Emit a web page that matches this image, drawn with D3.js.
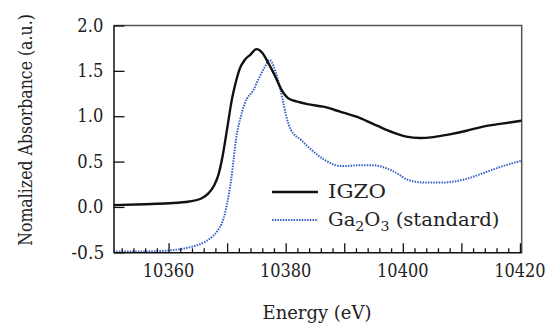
<!DOCTYPE html>
<html>
<head>
<meta charset="utf-8">
<script src="https://cdn.jsdelivr.net/npm/d3@7"></script>
<style>
  body { margin: 0; background: #fff; }
</style>
</head>
<body>
<svg width="548" height="325"></svg>
<script>
// data
var igzoE = [10350.6, 10356, 10360, 10363.5, 10365.5, 10366.8, 10367.8, 10368.5, 10369.2, 10370, 10370.8, 10371.5, 10372.2, 10373, 10374, 10375, 10376, 10377, 10378.2, 10379.3, 10380.4, 10382, 10384, 10386.4, 10389.3, 10392.7, 10395.8, 10398.4, 10400.6, 10402.9, 10405.2, 10408, 10410.9, 10413.7, 10416.6, 10420.3];
var igzoV = [0.02, 0.03, 0.04, 0.06, 0.09, 0.15, 0.24, 0.35, 0.55, 0.86, 1.18, 1.38, 1.53, 1.62, 1.68, 1.74, 1.70, 1.59, 1.44, 1.29, 1.20, 1.16, 1.13, 1.105, 1.05, 0.98, 0.89, 0.82, 0.775, 0.76, 0.77, 0.80, 0.84, 0.885, 0.915, 0.95];
var gaE = [10350.6, 10356, 10360, 10363.9, 10365.4, 10366.6, 10367.6, 10368.4, 10369.1, 10369.6, 10370, 10370.4, 10370.7, 10371.1, 10371.5, 10372.2, 10373, 10374.5, 10375.3, 10376.5, 10377.2, 10378.6, 10379.5, 10380.1, 10380.9, 10382.6, 10384.4, 10386.6, 10389.5, 10392.9, 10394.8, 10396.6, 10397.8, 10399.3, 10400.6, 10403.5, 10406.9, 10410.3, 10413.2, 10416.6, 10420.3];
var gaV = [-0.49, -0.49, -0.48, -0.44, -0.41, -0.37, -0.32, -0.26, -0.18, -0.08, 0.04, 0.18, 0.30, 0.52, 0.74, 0.96, 1.14, 1.29, 1.40, 1.55, 1.62, 1.42, 1.18, 1.0, 0.85, 0.74, 0.63, 0.52, 0.45, 0.46, 0.46, 0.44, 0.41, 0.36, 0.305, 0.27, 0.27, 0.30, 0.36, 0.44, 0.51];
var xTickLabels = [10360, 10380, 10400, 10420];
var yTickLabels = [-0.5, 0.0, 0.5, 1.0, 1.5, 2.0];

// only real serif face in the sandbox is DejaVu Serif, squeeze it to Times-like widths
var FONT = "'DejaVu Serif', serif";
var FS = 18;
var svg = d3.select("svg").attr("font-family", FONT);
var L = 113.5, R = 521.7, T = 25.5, B = 252.3;

var x = d3.scaleLinear().domain([10350.6, 10420.3]).range([L, R]);
var y = d3.scaleLinear().domain([-0.5, 2.0]).range([B, T]);

function squeeze(sel, w) {
  sel.each(function() {
    var bb = this.getBBox();
    var s = w / bb.width;
    var ax = bb.x;
    var a = d3.select(this).attr("text-anchor");
    if (a === "middle") ax = bb.x + bb.width / 2;
    if (a === "end") ax = bb.x + bb.width;
    var prev = d3.select(this).attr("transform") || "";
    d3.select(this).attr("transform", prev + " translate(" + ax + ",0) scale(" + s + ",1) translate(" + (-ax) + ",0)");
  });
}

svg.append("clipPath").attr("id", "clip")
  .append("rect").attr("x", L).attr("y", T - 2).attr("width", R - L).attr("height", B - T + 2);

// frame: top and right in grey
svg.append("path")
  .attr("d", "M" + L + "," + T + "H" + R + "V" + B)
  .attr("fill", "none").attr("stroke", "#555").attr("stroke-width", 1.5);

var line = d3.line().curve(d3.curveMonotoneX)
  .x(function(d) { return x(d[0]); })
  .y(function(d) { return y(d[1]); });

var ga = d3.zip(gaE, gaV);
var igzo = d3.zip(igzoE, igzoV);

svg.append("path").datum(ga)
  .attr("clip-path", "url(#clip)")
  .attr("d", line)
  .attr("fill", "none").attr("stroke", "#3a60c8").attr("stroke-width", 2)
  .attr("stroke-dasharray", "1.5,1.2");

svg.append("path").datum(igzo)
  .attr("clip-path", "url(#clip)")
  .attr("d", line)
  .attr("fill", "none").attr("stroke", "#111").attr("stroke-width", 2.4);

// x axis: minor ticks every 2 eV, longer every 10
var minor = d3.range(10352, 10421, 2);
var gx = svg.append("g").attr("transform", "translate(0," + B + ")");
gx.call(d3.axisBottom(x).tickValues(minor).tickSizeInner(-4).tickSizeOuter(0).tickFormat(""));
gx.selectAll(".tick line").attr("y2", function(d) { return d % 10 === 0 ? -9 : -4; })
  .attr("stroke", "#111").attr("stroke-width", 1.3);
gx.select(".domain").attr("stroke", "#111").attr("stroke-width", 1.5);

var xl = svg.append("g").selectAll("text").data(xTickLabels).join("text")
  .attr("x", function(d) { return x(d); })
  .attr("y", B + 25)
  .attr("text-anchor", "middle")
  .attr("font-size", FS).attr("fill", "#222")
  .text(function(d) { return d; });
squeeze(xl, 51.5);

// y axis
var gy = svg.append("g").attr("transform", "translate(" + L + ",0)");
gy.call(d3.axisLeft(y).tickValues(yTickLabels).tickSizeInner(-11).tickSizeOuter(0)
  .tickPadding(7.5).tickFormat(d3.format(".1f")));
gy.attr("font-family", FONT);
gy.select(".domain").attr("stroke", "#111").attr("stroke-width", 1.5);
gy.selectAll(".tick line").attr("stroke", "#111").attr("stroke-width", 1.3);
var yl = gy.selectAll(".tick text").attr("font-size", FS).attr("fill", "#222")
  .text(function(d) { return d3.format(".1f")(d).replace("−", "-"); });
yl.each(function(d) {
  squeeze(d3.select(this), d < 0 ? 33 : 26);
});

// axis titles
var xt = svg.append("text")
  .attr("x", 317).attr("y", 319)
  .attr("text-anchor", "middle").attr("font-size", FS).attr("fill", "#222")
  .text("Energy (eV)");
squeeze(xt, 109);

var yt = svg.append("g").attr("transform", "translate(31.5,130) rotate(-90)")
  .append("text")
  .attr("x", 0).attr("y", 0)
  .attr("text-anchor", "middle").attr("font-size", FS).attr("fill", "#222")
  .text("Nomalized Absorbance (a.u.)");
squeeze(yt, 232);

// legend
var leg = svg.append("g");
leg.append("line").attr("x1", 272).attr("x2", 318).attr("y1", 192).attr("y2", 192)
  .attr("stroke", "#111").attr("stroke-width", 2.4);
var t1 = leg.append("text").attr("x", 328).attr("y", 198).attr("font-size", FS).attr("fill", "#222").text("IGZO");
squeeze(t1, 58);

leg.append("line").attr("x1", 272).attr("x2", 318).attr("y1", 220).attr("y2", 220)
  .attr("stroke", "#3a60c8").attr("stroke-width", 2).attr("stroke-dasharray", "1.5,1.2");
var t2 = leg.append("text").attr("x", 328).attr("y", 226.5).attr("font-size", FS).attr("fill", "#222");
t2.append("tspan").text("Ga");
t2.append("tspan").attr("font-size", 13).attr("dy", 5).text("2");
t2.append("tspan").attr("dy", -5).text("O");
t2.append("tspan").attr("font-size", 13).attr("dy", 5).text("3");
t2.append("tspan").attr("dy", -5).text(" (standard)");
squeeze(t2, 171.5);
</script>
</body>
</html>
